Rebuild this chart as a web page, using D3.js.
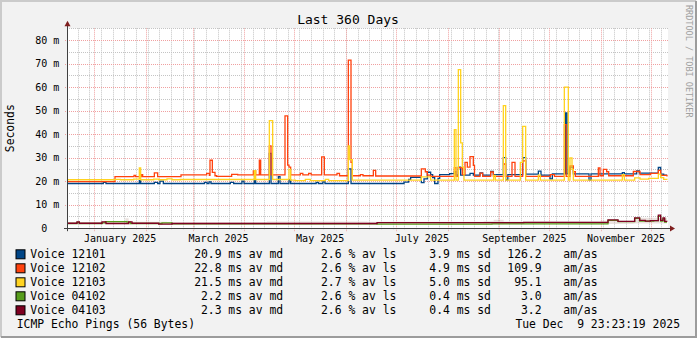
<!DOCTYPE html>
<html><head><meta charset="utf-8">
<script src="https://cdn.jsdelivr.net/npm/d3@7"></script>
<style>
html,body{margin:0;padding:0;background:#f2f2f2;}
svg{display:block;}
text{font-family:"DejaVu Sans Mono",monospace;white-space:pre;}
</style></head><body>
<svg id="c" width="697" height="338"></svg>
<script>
// ---------- data ----------
const title = "Last 360 Days";
const yLabel = "Seconds";
const startMs = Date.UTC(2024, 11, 15, 14);   // day 0 of the window
const spanDays = 360;
const yMax = 85;
const yTickValues = [0, 10, 20, 30, 40, 50, 60, 70, 80];
const yTickLabels = ["0", "10", "20", "30", "40", "50", "60", "70", "80"];
const monthLabels = ["January 2025", "March 2025", "May 2025", "July 2025", "September 2025", "November 2025"];
const monthLabelMonths = [[2025,0],[2025,2],[2025,4],[2025,6],[2025,8],[2025,10]];

const seriesNames = ["Voice 12101", "Voice 12102", "Voice 12103", "Voice 04102", "Voice 04103"];
const seriesColors = ["#004586", "#ff420e", "#ffd320", "#579d1c", "#7e0021"];
const avgMs  = ["20.9", "22.8", "21.5", "2.2", "2.3"];
const lossPct = ["2.6", "2.6", "2.7", "2.6", "2.6"];
const sdMs   = ["3.9", "4.9", "5.0", "0.4", "0.4"];
const amas   = ["126.2", "109.9", "95.1", "3.0", "3.2"];
const footerLeft = "ICMP Echo Pings (56 Bytes)";
const footerRight = "Tue Dec  9 23:23:19 2025";
const watermark = "RRDTOOL / TOBI OETIKER";

// step breakpoints: [day offset from window start, median RTT in ms]
const voice12101 = [[0,19.0],[21.8,19.5],[23.4,19.0],[43.4,20.2],[44.2,19.0],[52.4,19.5],[54.4,19.0],[55.8,20.0],[57.8,19.0],[82.5,19.5],[84,19.0],[85.2,19.7],[86.4,19.0],[98,19.5],[100,19.0],[105,20.0],[106.2,19.0],[112.4,20.2],[113.2,19.0],[121.4,31.8],[122.4,19.0],[126.8,21.9],[127.8,19.0],[133.2,20.6],[134.2,19.0],[149.5,19.5],[150.8,19.0],[153.5,19.7],[154.8,19.0],[168.8,25.2],[170.4,19.0],[202.2,19.6],[205,20.8],[206.2,21.6],[212.6,19.4],[214.2,21.0],[216.2,23.8],[218.2,22.8],[219.4,21.5],[220.6,19.0],[222.6,21.2],[223.6,22.8],[229.6,23.2],[232.4,24.0],[233.4,22.6],[234.8,26.0],[236.2,22.6],[241.8,23.3],[243.8,22.6],[247.8,23.5],[249.4,22.6],[254.2,24.2],[255.8,22.8],[261.8,30.0],[263.2,20.6],[264.5,22.8],[273.4,30.0],[275.2,23.0],[282.8,24.3],[284.4,22.6],[289.8,21.0],[291.2,23.1],[299.2,49.0],[300,23.1],[301.8,26.0],[303.8,23.1],[313.2,20.4],[314.4,23.1],[333.2,23.6],[334.4,23.1],[341.8,24.4],[343.4,23.4],[354.8,25.8],[356.2,23.0],[358,22.6],[360,22.6]];
const voice12102 = [[0,19.8],[28.8,21.9],[40.2,22.4],[41.2,21.9],[44.6,22.8],[45.4,21.9],[52.4,23.5],[54.4,21.9],[68.4,22.7],[83.8,23.3],[85.4,22.5],[85.8,28.9],[87.2,23.7],[88.8,22.3],[89.8,22.0],[98.8,22.9],[102.4,22.7],[111.8,24.4],[113.2,22.7],[115.4,28.9],[116.2,22.7],[121.4,35.0],[122.4,22.7],[130.8,47.8],[132.4,26.8],[133.2,26.0],[134.2,22.7],[140,23.3],[141.5,22.7],[145,23.3],[146.5,22.7],[152.8,30.3],[154.4,22.7],[162,23.3],[163.5,22.3],[168.8,71.5],[170.4,28.0],[171.2,22.3],[176,22.8],[177.6,22.3],[183.8,24.6],[185.2,22.2],[212.6,25.2],[215,24.0],[216.2,22.6],[218.2,22.0],[232.4,25.7],[233.4,22.0],[234.8,25.7],[237.2,22.8],[238.8,28.0],[240.2,26.0],[241.8,30.4],[243.8,26.7],[244.5,22.0],[247.8,23.4],[249.4,22.0],[254.2,23.9],[255.8,22.0],[262,27.3],[263.2,22.0],[267,28.0],[268.8,22.0],[273.4,28.6],[275.2,22.0],[290,22.8],[292.5,22.0],[298.4,44.0],[299.5,22.0],[301.8,26.5],[303.8,24.0],[305,22.0],[318.8,25.6],[319.8,22.3],[321.8,25.0],[323.8,24.0],[325,22.3],[339.8,24.1],[343.8,22.8],[350,23.3],[354.8,24.6],[356.2,22.5],[360,22.0]];
const voice12103 = [[0,20.6],[28.8,20.8],[32,20.6],[40,20.9],[43.4,25.6],[44.2,20.6],[52,20.9],[55,20.6],[60,21.0],[63,20.6],[68,20.7],[112.4,24.5],[113.2,20.7],[121.4,45.7],[123.4,20.7],[133.2,25.0],[134.2,20.4],[137,20.2],[143,20.8],[146,20.2],[155,20.8],[157,20.2],[168.8,35.0],[169.6,29.2],[171.2,20.4],[212.6,21.8],[218.2,20.4],[232.4,41.9],[233.4,20.4],[234.8,67.4],[236.2,36.3],[237.2,26.0],[238.2,20.4],[255,20.4],[256,22.5],[257,20.4],[261.8,52.1],[263.2,20.4],[272,28.0],[273.4,43.3],[275.2,20.4],[282.8,22.6],[284,20.4],[298.4,60.0],[300.8,20.4],[301.8,29.9],[303,25.0],[303.8,20.4],[333.2,22.8],[334.4,20.4],[340.6,21.4],[343.8,20.9],[349,21.2],[354.8,23.0],[356.2,21.5],[358,20.8],[360,20.6]];
const voice04102 = [[0,2.0],[6,2.5],[7.4,2.0],[21,2.3],[23,2.8],[36,2.6],[38,2.0],[57,2.3],[63,1.9],[186,1.7],[255,1.8],[290,1.8],[324.6,3.3],[330.6,2.8],[340.6,4.2],[343.6,3.0],[352,3.2],[354.8,5.0],[356.2,3.0],[357.6,4.0],[358.6,2.6],[360,2.6]];
const voice04103 = [[0,2.1],[6,2.7],[7.4,2.1],[21,2.7],[23.4,2.0],[37,2.7],[39,2.1],[55,1.7],[63,2.0],[130,2.0],[186,2.4],[230,2.4],[255,2.4],[274,2.5],[324.6,3.5],[330.6,2.9],[340.6,4.4],[343.6,3.3],[347,3.0],[350,3.2],[354.8,5.6],[356.2,3.3],[357.6,4.4],[358.6,2.9],[360,2.8]];
const seriesData = [voice12101, voice12102, voice12103, voice04102, voice04103];

// faint smoke around the low-latency pair: [day, low ms, high ms]
const smokeBand = [[0,1.7,2.6],[20,1.7,2.8],[35,1.7,4.2],[37,1.7,2.7],[60,1.6,2.6],[120,1.6,2.8],[180,1.6,2.7],[250,1.6,3.0],[256,1.6,3.6],[262,1.7,2.8],[320,1.8,3.2],[340,2.0,4.4],[360,2.0,3.4]];

// ---------- drawing ----------
const W = 697, H = 338;
const svg = d3.select("#c");
const pL = 67, pR = 667, pT = 28.3, pB = 228.2;
const dayMs = 864e5;
const toDate = d => new Date(startMs + d * dayMs);
const x = d3.scaleUtc().domain([toDate(0), toDate(spanDays)]).range([pL, pR]);
const y = d3.scaleLinear().domain([0, yMax]).range([pB, pT]);

// background and frame
svg.append("rect").attr("width", W).attr("height", H).attr("fill", "#f2f2f2");
svg.append("path").attr("d", `M1,${H-1}V1H${W-1}`).attr("fill","none").attr("stroke","#cbcbcb").attr("stroke-width",2);
svg.append("path").attr("d", `M1,${H-1}H${W-1}V1`).attr("fill","none").attr("stroke","#9c9c9c").attr("stroke-width",2);
svg.append("rect").attr("x", pL).attr("y", pT).attr("width", pR - pL + 1).attr("height", pB - pT).attr("fill", "#fff");

const g = svg.append("g");
// minor grid: every 5 ms and every Sunday
const minorY = d3.range(5, yMax + 0.1, 5).filter(v => v % 10 !== 0);
g.selectAll(".hmin").data(minorY).enter().append("line")
  .attr("x1", pL).attr("x2", pR + 1).attr("y1", d => Math.round(y(d)) + 0.5).attr("y2", d => Math.round(y(d)) + 0.5)
  .attr("stroke", "#c4c4c4").attr("stroke-dasharray", "1,1");
const sundays = d3.utcSunday.range(toDate(0), toDate(spanDays));
g.selectAll(".vmin").data(sundays).enter().append("line")
  .attr("x1", d => Math.round(x(d)) + 0.5).attr("x2", d => Math.round(x(d)) + 0.5).attr("y1", pT).attr("y2", pB + 2)
  .attr("stroke", "#c4c4c4").attr("stroke-dasharray", "1,1");
// major grid
g.selectAll(".hmaj").data(yTickValues.slice(1)).enter().append("line")
  .attr("x1", pL - 2).attr("x2", pR + 1).attr("y1", d => Math.round(y(d)) + 0.5).attr("y2", d => Math.round(y(d)) + 0.5)
  .attr("stroke", "#f0a0a0").attr("stroke-dasharray", "1,1");
const months = d3.utcMonth.range(toDate(0), toDate(spanDays));
g.selectAll(".vmaj").data(months).enter().append("line")
  .attr("x1", d => Math.round(x(d)) + 0.5).attr("x2", d => Math.round(x(d)) + 0.5).attr("y1", pT).attr("y2", pB + 3)
  .attr("stroke", "#f0a0a0").attr("stroke-dasharray", "1,1");

// smoke
svg.append("path").datum(smokeBand)
  .attr("d", d3.area().x(p => x(toDate(p[0]))).y0(p => y(p[1])).y1(p => y(p[2])).curve(d3.curveStepAfter))
  .attr("fill", "rgba(190,160,150,0.3)");

// series lines
const line = d3.line().x(p => x(toDate(p[0]))).y(p => y(p[1])).curve(d3.curveStepAfter);
seriesData.forEach((s, i) => {
  svg.append("path").datum(s).attr("d", line).attr("fill", "none")
    .attr("stroke", seriesColors[i]).attr("stroke-width", 1.3).attr("stroke-linejoin", "miter");
});

// axes
const axisCol = "#404040";
svg.append("line").attr("x1", pL - 3).attr("x2", pR + 4).attr("y1", Math.round(pB) + 0.5).attr("y2", Math.round(pB) + 0.5).attr("stroke", axisCol);
svg.append("line").attr("x1", pL + 0.5).attr("x2", pL + 0.5).attr("y1", pB + 3).attr("y2", pT - 3).attr("stroke", axisCol);
svg.append("path").attr("d", `M${pR+3},${Math.round(pB)-2.5}L${pR+8},${Math.round(pB)+0.5}L${pR+3},${Math.round(pB)+3.5}Z`).attr("fill", "#7f1f1f");
svg.append("path").attr("d", `M${pL-2.5},${pT-2}L${pL+0.5},${pT-7.5}L${pL+3.5},${pT-2}Z`).attr("fill", "#7f1f1f");

// y tick labels
const yl = svg.append("g").attr("font-size", "10px").attr("fill", "#000");
yTickValues.forEach((v, i) => {
  yl.append("text").attr("x", 47.3).attr("y", y(v) + 3.6).attr("text-anchor", "end").text(yTickLabels[i]);
  if (v !== 0) yl.append("text").attr("x", 53.3).attr("y", y(v) + 3.6).text("m");
});
// x month labels
monthLabelMonths.forEach((m, i) => {
  const a = Date.UTC(m[0], m[1], 1), b = Date.UTC(m[0], m[1] + 1, 1);
  svg.append("text").attr("x", (x(new Date(a)) + x(new Date(b))) / 2).attr("y", 241.5)
    .attr("text-anchor", "middle").attr("font-size", "10px").text(monthLabels[i]);
});

// title & axis label
svg.append("text").attr("x", 348).attr("y", 24).attr("text-anchor", "middle").attr("font-size", "13px").text(title);
svg.append("text").attr("transform", "translate(14.3,128.2) rotate(-90)").attr("text-anchor", "middle").attr("font-size", "11.4px").text(yLabel);
svg.append("text").attr("transform", "translate(685.5,5) rotate(90)").attr("font-size", "8.5px").attr("fill", "#a0a0a0").text(watermark);

// legend
const rowY = [258.3, 272.3, 286.3, 300.3, 314.3];
const lg = svg.append("g").attr("font-size", "11.4px").attr("fill", "#000");
seriesNames.forEach((n, i) => {
  const by = rowY[i];
  lg.append("rect").attr("x", 16).attr("y", by - 8.5).attr("width", 9).attr("height", 9)
    .attr("fill", seriesColors[i]).attr("stroke", "#000").attr("stroke-width", 1);
  lg.append("text").attr("x", 30.3).attr("y", by).text(n);
  lg.append("text").attr("x", 221.6).attr("y", by).attr("text-anchor", "end").text(avgMs[i]);
  lg.append("text").attr("x", 228.3).attr("y", by).text("ms av md");
  lg.append("text").attr("x", 341.6).attr("y", by).attr("text-anchor", "end").text(lossPct[i]);
  lg.append("text").attr("x", 348.4).attr("y", by).text("% av ls");
  lg.append("text").attr("x", 449.9).attr("y", by).attr("text-anchor", "end").text(sdMs[i]);
  lg.append("text").attr("x", 456.7).attr("y", by).text("ms sd");
  lg.append("text").attr("x", 541.6).attr("y", by).attr("text-anchor", "end").text(amas[i]);
  lg.append("text").attr("x", 563.3).attr("y", by).text("am/as");
});
lg.append("text").attr("x", 16.7).attr("y", 328).text(footerLeft);
lg.append("text").attr("x", 680).attr("y", 328).attr("text-anchor", "end").attr("xml:space", "preserve").text(footerRight);
</script>
</body></html>
